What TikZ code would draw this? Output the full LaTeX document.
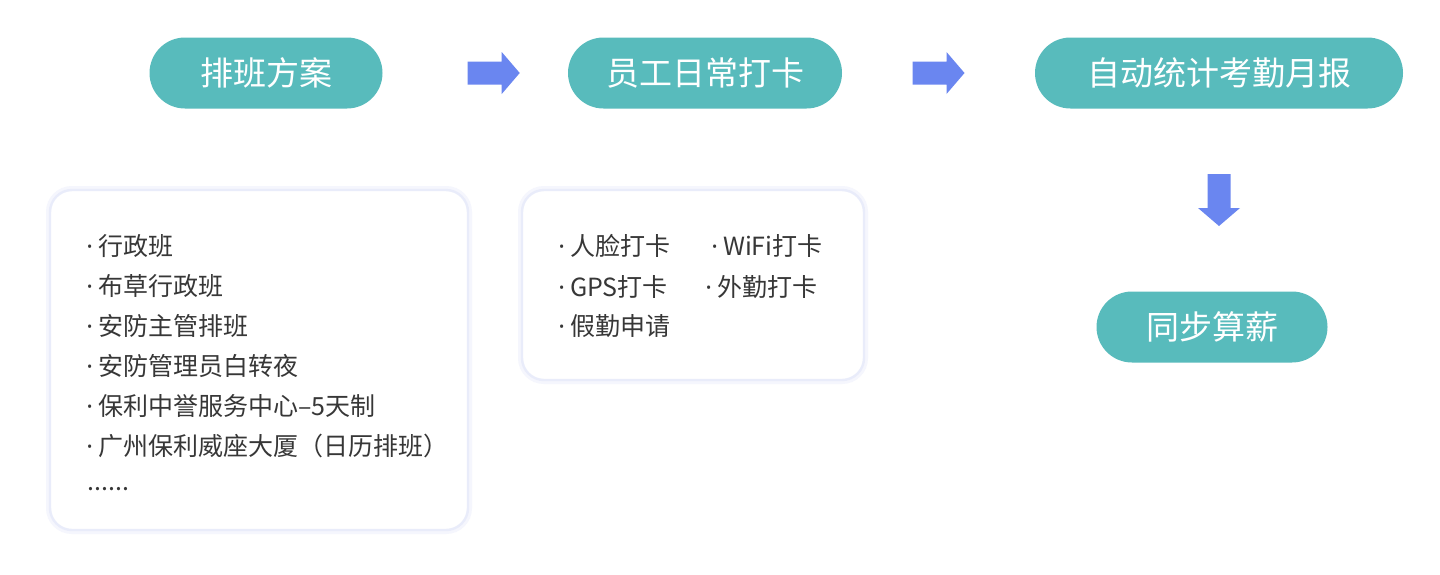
\documentclass[tikz,border=0pt]{standalone}
\usepackage{fontspec}
\setmainfont{Noto Sans CJK SC}
\newfontfamily\dotfont{Noto Sans}
\newcommand{\listdot}{{\dotfont·}\hspace{2.5pt}}
\usetikzlibrary{calc}
\definecolor{pillteal}{RGB}{88,187,188}
\definecolor{arrowblue}{RGB}{106,134,240}
\definecolor{boxedge}{RGB}{233,236,250}
\definecolor{entrygray}{RGB}{55,55,55}
\tikzset{
  pill/.style={fill=pillteal, text=white, rounded corners=17.75pt,
    minimum height=35.5pt, inner sep=0pt, font=\fontsize{16.5}{16.5}\selectfont},
  listbox/.style={fill=white, draw=boxedge, line width=1.2pt, rounded corners=11pt,
    preaction={draw=boxedge!45, line width=4pt}},
  entry/.style={anchor=west, inner sep=0pt, text=entrygray,
    font=\fontsize{12.5}{12.5}\selectfont},
  fatarrow/.pic={\fill[arrowblue] (-26,-11.5)--(8,-11.5)--(8,-21)--(26,0)--(8,21)--(8,11.5)--(-26,11.5)--cycle;}
}
\begin{document}
\begin{tikzpicture}[x=0.5pt,y=-0.5pt]
\useasboundingbox[fill=white] (0,0) rectangle (1440,574);
% steps
\node[pill, minimum width=116.5pt] (plan) at (266,73) {排班方案};
\node[pill, minimum width=137pt] (clock) at (705,73) {员工日常打卡};
\node[pill, minimum width=184pt] (report) at (1219,73) {自动统计考勤月报};
\node[pill, minimum width=115.5pt] (salary) at (1212,327) {同步算薪};
% arrows between steps
\pic at ($(plan.east)!0.6!(clock.west)$) {fatarrow};
\pic at ($(clock.east)!0.5!(report.west)$) {fatarrow};
\pic[rotate=-90] at ($(report.south)!0.5!(report.south |- salary.north)$) {fatarrow};
% boxes
\node[listbox, minimum width=209pt, minimum height=170pt] (planbox) at (259,360) {};
\node[listbox, minimum width=171pt, minimum height=95pt] (clockbox) at (693,285) {};
% shift plans
\node[entry] (p1) at (86,246) {\listdot 行政班};
\node[entry] (p2) at (86,286) {\listdot 布草行政班};
\node[entry] (p3) at (86,326) {\listdot 安防主管排班};
\node[entry] (p4) at (86,366) {\listdot 安防管理员白转夜};
\node[entry] (p5) at (86,406) {\listdot 保利中誉服务中心–5天制};
\node[entry] (p6) at (86,446) {\listdot 广州保利威座大厦（日历排班）};
\node[entry] (p7) at (87,489) {......};
% clock-in ways
\node[entry] (c1) at (558,246) {\listdot 人脸打卡};
\node[entry] (c2) at (711,246) {\listdot WiFi打卡};
\node[entry] (c3) at (558,287) {\listdot GPS打卡};
\node[entry] (c4) at (705,287) {\listdot 外勤打卡};
\node[entry] (c5) at (558,326) {\listdot 假勤申请};
\end{tikzpicture}
\end{document}
